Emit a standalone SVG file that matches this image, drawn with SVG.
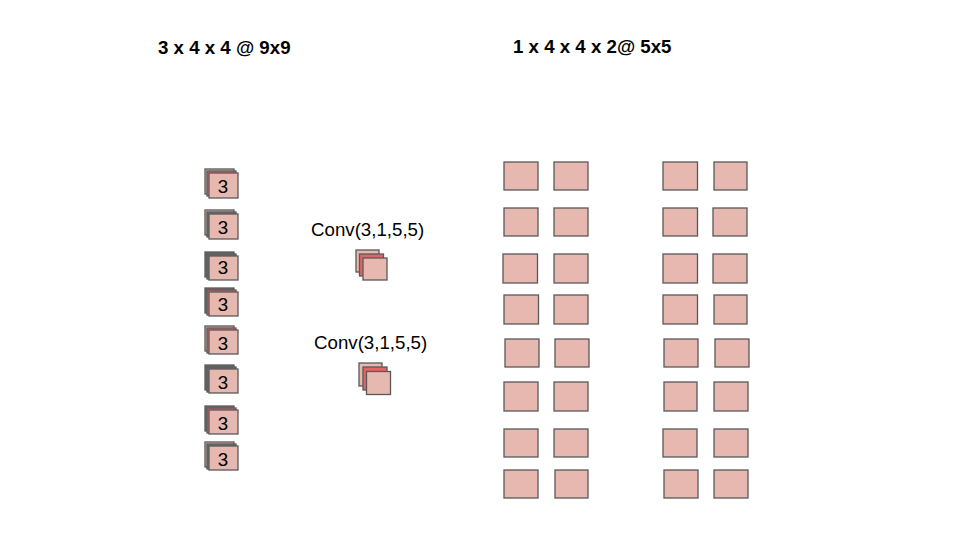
<svg xmlns="http://www.w3.org/2000/svg" width="960" height="540" viewBox="0 0 960 540">
<style>
.b{fill:#e6b8af;stroke:#595959;stroke-width:1.3}
.r{fill:#e06666;stroke:#595959;stroke-width:1.3}
.g{fill:#6f6f6f;stroke:#595959;stroke-width:1.3}
.t{font-family:"Liberation Sans",Arial,sans-serif;font-size:18.7px;fill:#000}
.h{font-family:"Liberation Sans",Arial,sans-serif;font-size:18.7px;font-weight:bold;fill:#000}
.n{font-family:"Liberation Sans",Arial,sans-serif;font-size:18.7px;fill:#000;text-anchor:middle}
</style>
<rect width="960" height="540" fill="#fff"/>
<g id="titles">
<text class="h" x="158" y="54">3 x 4 x 4 @ 9x9</text>
<text class="h" x="513" y="53">1 x 4 x 4 x 2@ 5x5</text>
</g>
<g id="input">
<g id="in1"><rect class="b" x="205" y="169" width="29" height="25"/><rect class="r" x="207" y="171" width="29" height="25"/><rect class="b" x="209" y="173" width="29" height="25"/><text class="n" x="223" y="193">3</text></g>
<g id="in2"><rect class="b" x="205" y="210" width="29" height="25"/><rect class="g" x="207" y="212" width="29" height="25"/><rect class="b" x="209" y="214" width="29" height="25"/><text class="n" x="223" y="234">3</text></g>
<g id="in3"><rect class="g" x="205" y="252" width="29" height="25"/><rect class="g" x="207" y="254" width="29" height="25"/><rect class="b" x="209" y="256" width="29" height="24"/><text class="n" x="223" y="274">3</text></g>
<g id="in4"><rect class="g" x="205" y="288" width="29" height="25"/><rect class="r" x="207" y="290" width="29" height="25"/><rect class="b" x="209" y="292" width="29" height="24"/><text class="n" x="223" y="311">3</text></g>
<g id="in5"><rect class="b" x="205" y="326" width="29" height="25"/><rect class="r" x="207" y="328" width="29" height="25"/><rect class="b" x="209" y="330" width="29" height="24"/><text class="n" x="223" y="350">3</text></g>
<g id="in6"><rect class="g" x="205" y="365" width="29" height="25"/><rect class="g" x="207" y="367" width="29" height="25"/><rect class="b" x="209" y="369" width="29" height="24"/><text class="n" x="223" y="389">3</text></g>
<g id="in7"><rect class="g" x="205" y="406" width="29" height="25"/><rect class="r" x="207" y="408" width="29" height="25"/><rect class="b" x="209" y="410" width="29" height="24"/><text class="n" x="223" y="430">3</text></g>
<g id="in8"><rect class="b" x="205" y="442" width="29" height="25"/><rect class="g" x="207" y="444" width="29" height="25"/><rect class="b" x="209" y="446" width="29" height="24"/><text class="n" x="223" y="466">3</text></g>
</g>
<g id="conv1">
<text class="t" x="311" y="236">Conv(3,1,5,5)</text>
<rect class="b" x="356" y="250" width="23" height="22"/>
<rect class="r" x="359.5" y="254" width="24" height="22"/>
<rect class="b" x="363" y="258" width="24" height="22"/>
</g>
<g id="conv2">
<text class="t" x="314" y="349">Conv(3,1,5,5)</text>
<rect class="b" x="359" y="363" width="23" height="23"/>
<rect class="r" x="363" y="367" width="24" height="23"/>
<rect class="b" x="366.5" y="371.5" width="24" height="23"/>
</g>
<g id="out1">
<rect class="b" x="504" y="162" width="34" height="28"/><rect class="b" x="554" y="162" width="34" height="28"/>
<rect class="b" x="504" y="208" width="34" height="28"/><rect class="b" x="554" y="208" width="34" height="28"/>
<rect class="b" x="503" y="254" width="34.5" height="29"/><rect class="b" x="554" y="254" width="34" height="29"/>
<rect class="b" x="504" y="295" width="34.5" height="29"/><rect class="b" x="554" y="295" width="34" height="29"/>
<rect class="b" x="505" y="339" width="34" height="28"/><rect class="b" x="555" y="339" width="34" height="28"/>
<rect class="b" x="504" y="382" width="34" height="29"/><rect class="b" x="554" y="382" width="34" height="29"/>
<rect class="b" x="504" y="429" width="34" height="28"/><rect class="b" x="554" y="429" width="34" height="28"/>
<rect class="b" x="504" y="470" width="34" height="28"/><rect class="b" x="555" y="470" width="33" height="28"/>
</g>
<g id="out2">
<rect class="b" x="663" y="162" width="34.5" height="28"/><rect class="b" x="714" y="162" width="33" height="28"/>
<rect class="b" x="663" y="208" width="34.5" height="28"/><rect class="b" x="713" y="208" width="34" height="28"/>
<rect class="b" x="663" y="254" width="34.5" height="29"/><rect class="b" x="713" y="254" width="34" height="29"/>
<rect class="b" x="663" y="295" width="34.5" height="29"/><rect class="b" x="714" y="295" width="33" height="29"/>
<rect class="b" x="664" y="339" width="34" height="28"/><rect class="b" x="715" y="339" width="34" height="28"/>
<rect class="b" x="664" y="382" width="33" height="29"/><rect class="b" x="714" y="382" width="34" height="29"/>
<rect class="b" x="663" y="429" width="34" height="28"/><rect class="b" x="714" y="429" width="34" height="28"/>
<rect class="b" x="664" y="470" width="34" height="28"/><rect class="b" x="714" y="470" width="34" height="28"/>
</g>
</svg>
